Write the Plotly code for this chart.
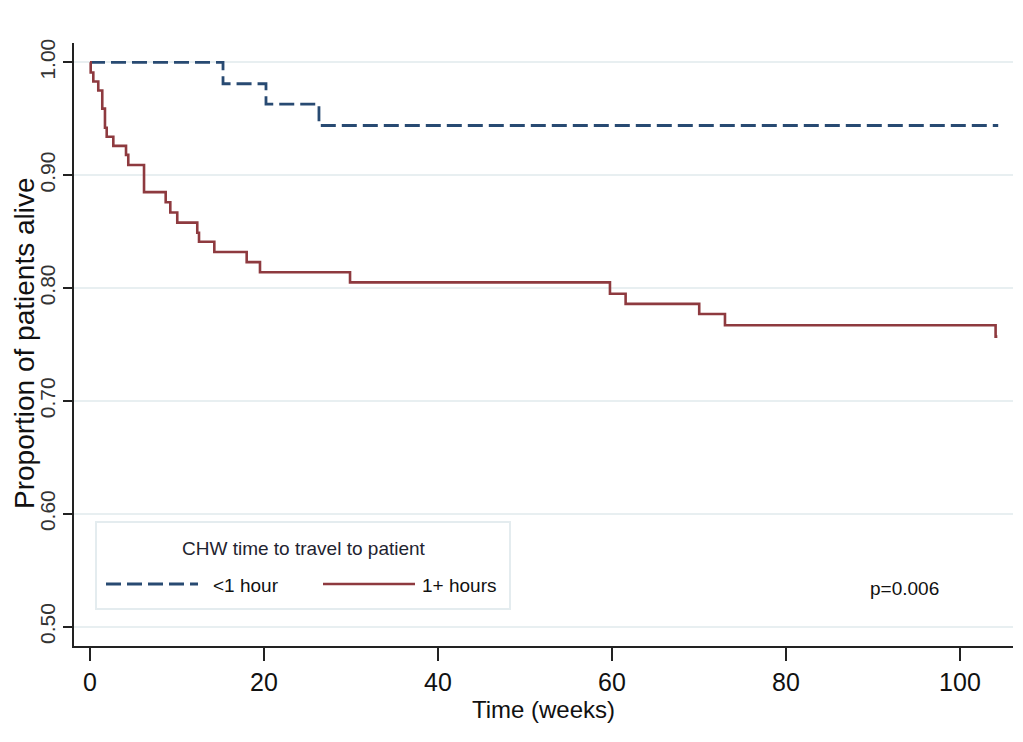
import plotly.graph_objects as go

# ---- data ----
series_names = ["<1 hour", "1+ hours"]
legend_title = "CHW time to travel to patient"

t_lt1 = [0, 15.29, 20.23, 26.32, 104.4]
s_lt1 = [1.0, 0.981, 0.963, 0.944, 0.944]

t_1plus = [0, 0.08, 0.38, 0.95, 1.41, 1.72, 1.92, 2.68, 4.14, 4.40, 6.21, 8.70,
           9.23, 10.03, 12.33, 12.53, 14.29, 18.01, 19.54, 29.89, 59.77, 61.57,
           70.03, 72.99, 104.1, 104.3]
s_1plus = [1.0, 0.991, 0.983, 0.975, 0.959, 0.942, 0.934, 0.926, 0.918, 0.909,
           0.885, 0.876, 0.867, 0.858, 0.849, 0.841, 0.832, 0.823, 0.814, 0.805,
           0.795, 0.786, 0.777, 0.767, 0.757, 0.757]

x_ticks = [0, 20, 40, 60, 80, 100]
y_ticks = [0.50, 0.60, 0.70, 0.80, 0.90, 1.00]
y_tick_text = ["0.50", "0.60", "0.70", "0.80", "0.90", "1.00"]
x_title = "Time (weeks)"
y_title = "Proportion of patients alive"
p_text = "p=0.006"

BLUE = "#284a72"
RED = "#8e3a3f"
DASH = "15px,6px"
FONT = "Liberation Sans, Arial, sans-serif"

fig = go.Figure()
fig.add_trace(go.Scatter(x=t_lt1, y=s_lt1, mode="lines", name=series_names[0],
                         line=dict(color=BLUE, width=2.8, dash=DASH, shape="hv"),
                         showlegend=False))
fig.add_trace(go.Scatter(x=t_1plus, y=s_1plus, mode="lines", name=series_names[1],
                         line=dict(color=RED, width=2.6, shape="hv"),
                         showlegend=False))

# custom legend box (Stata style)
def px2x(px):
    return (px - 74) / 939.0

def py2y(py):
    return (646 - py) / 603.0

fig.add_shape(type="rect", xref="paper", yref="paper",
              x0=px2x(96), x1=px2x(510), y0=py2y(609), y1=py2y(522),
              line=dict(color="#e4ecef", width=2), fillcolor="white", layer="above")
fig.add_shape(type="line", xref="paper", yref="paper",
              x0=px2x(106), x1=px2x(198), y0=py2y(584), y1=py2y(584),
              line=dict(color=BLUE, width=2.8, dash=DASH))
fig.add_shape(type="line", xref="paper", yref="paper",
              x0=px2x(323), x1=px2x(415), y0=py2y(584), y1=py2y(584),
              line=dict(color=RED, width=2.6))
fig.add_annotation(xref="paper", yref="paper", x=px2x(304), y=py2y(548),
                   text=legend_title, showarrow=False, xanchor="center", yanchor="middle",
                   font=dict(family=FONT, size=19, color="#1f2430"))
fig.add_annotation(xref="paper", yref="paper", x=px2x(211), y=py2y(585),
                   text=series_names[0], showarrow=False, xanchor="left", yanchor="middle",
                   font=dict(family=FONT, size=19, color="#111"))
fig.add_annotation(xref="paper", yref="paper", x=px2x(420), y=py2y(585),
                   text=series_names[1], showarrow=False, xanchor="left", yanchor="middle",
                   font=dict(family=FONT, size=19, color="#111"))
fig.add_annotation(xref="paper", yref="paper", x=px2x(904), y=py2y(588),
                   text=p_text, showarrow=False, xanchor="center", yanchor="middle",
                   font=dict(family=FONT, size=19, color="#111"))
# y-axis title (placed as rotated text to match the reference position)
fig.add_annotation(xref="paper", yref="paper", x=px2x(24), y=py2y(343),
                   text=y_title, showarrow=False, xanchor="center", yanchor="middle",
                   textangle=-90, font=dict(family=FONT, size=28, color="#111"))

fig.update_layout(
    width=1023, height=742,
    margin=dict(l=74, r=10, t=43, b=96),
    paper_bgcolor="white", plot_bgcolor="white",
    showlegend=False,
)
fig.update_xaxes(
    range=[-1.84, 106.1], tickvals=x_ticks, ticks="outside", ticklen=13,
    tickwidth=1.5, tickcolor="#222", showline=True, linecolor="#222", linewidth=2,
    showgrid=False, zeroline=False,
    tickfont=dict(family=FONT, size=25, color="#111"),
    title=dict(text=x_title, font=dict(family=FONT, size=24, color="#111"),
               standoff=6),
)
fig.update_yaxes(
    range=[0.4829, 1.0171], tickvals=y_ticks, ticktext=y_tick_text, tickangle=-90,
    ticks="outside", ticklen=9, tickwidth=1.5, tickcolor="#222",
    showline=True, linecolor="#222", linewidth=2,
    showgrid=True, gridcolor="#e8eff1", gridwidth=2, zeroline=False,
    tickfont=dict(family=FONT, size=21, color="#333"),
)

fig.write_html("out.html")
